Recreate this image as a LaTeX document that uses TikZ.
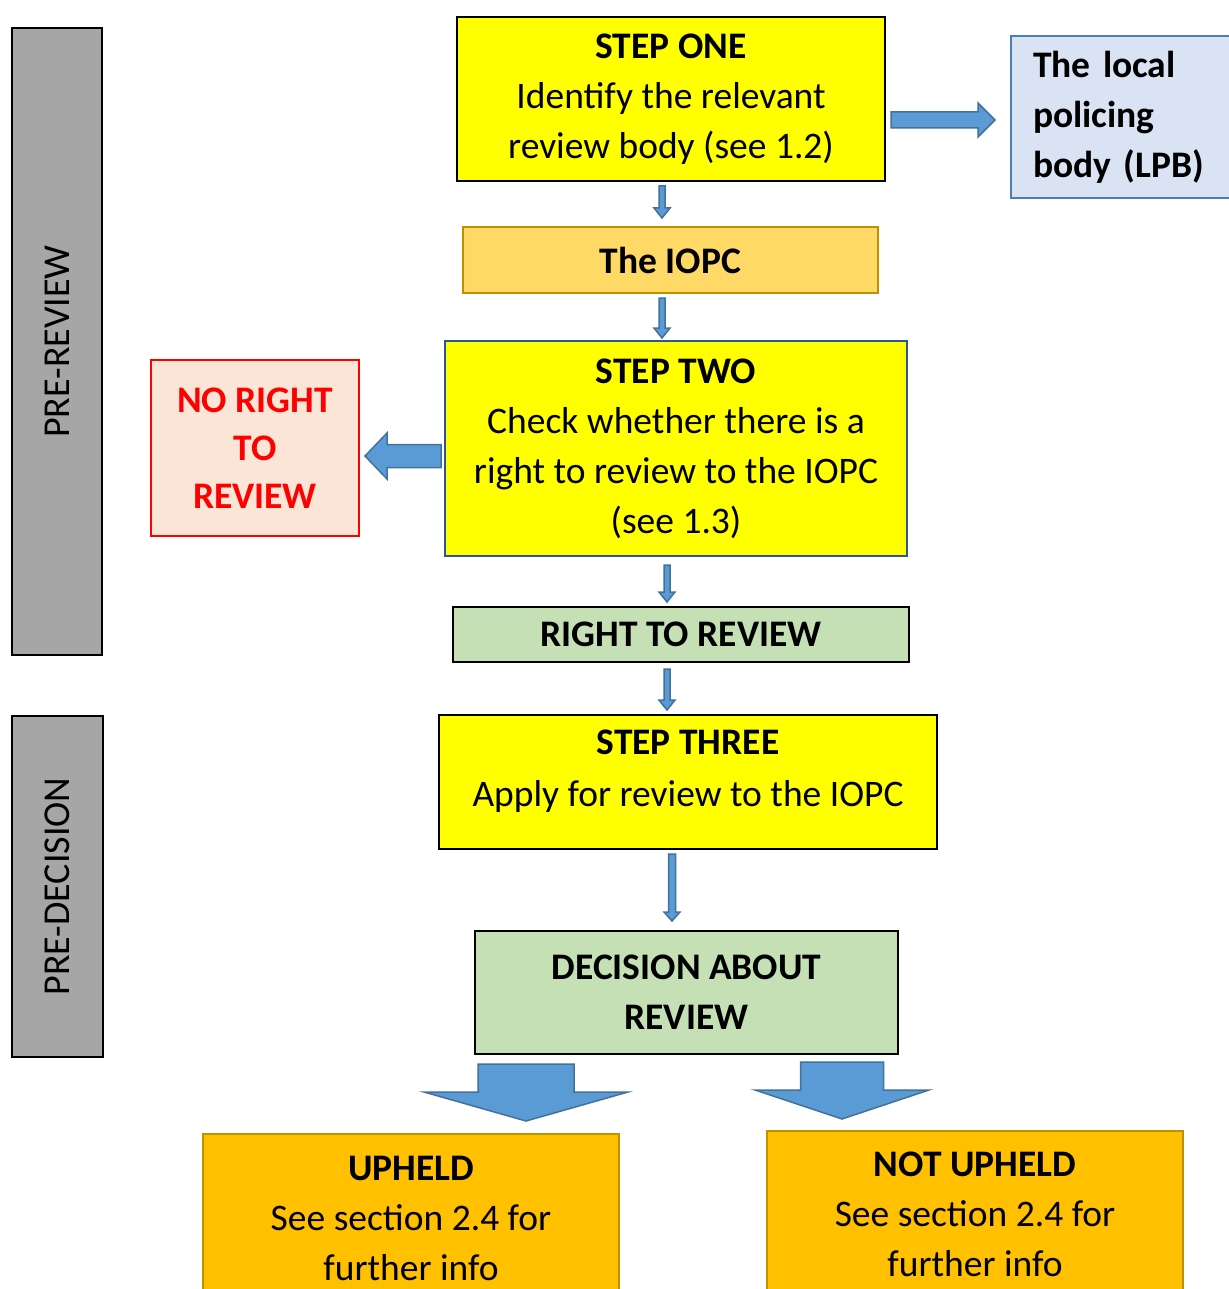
\documentclass[tikz,border=0pt]{standalone}
\usepackage{fontspec}
\setmainfont{Carlito}
\usetikzlibrary{calc}
\definecolor{grayfill}{HTML}{A6A6A6}
\definecolor{yel}{HTML}{FFFF00}
\definecolor{arrfill}{HTML}{5B9BD5}
\definecolor{arrline}{HTML}{41719C}
\definecolor{lpbfill}{HTML}{DAE3F3}
\definecolor{lpbline}{HTML}{4A7EBB}
\definecolor{iopcfill}{HTML}{FFD966}
\definecolor{goldline}{HTML}{BF9000}
\definecolor{darkblue}{HTML}{2F5597}
\definecolor{nrfill}{HTML}{FBE5D6}
\definecolor{nrred}{HTML}{FF0000}
\definecolor{grn}{HTML}{C5E0B4}
\definecolor{orng}{HTML}{FFC000}
\tikzset{
  box/.style={draw=black, line width=2pt, inner sep=0pt, align=center,
    font=\fontsize{37.5}{50}\selectfont, anchor=north west},
  graybox/.style={draw=black, line width=2pt, fill=grayfill, inner sep=0pt,
    font=\fontsize{38}{44}\selectfont},
  barrow/.style={fill=arrfill, draw=arrline, line width=1.5pt, line join=miter},
}
% vertical down connector: from node, to node, x, body half, head half, head length, gap top, gap bottom
\newcommand{\vconn}[8]{%
  \filldraw[barrow] let \p1=(#1.south), \p2=(#2.north) in
  ({(#3-#4)*1pt},{\y1-(#7pt)}) -- ({(#3-#4)*1pt},{\y2+(#8pt)+(#6pt)}) --
  ({(#3-#5)*1pt},{\y2+(#8pt)+(#6pt)}) -- ({#3*1pt},{\y2+(#8pt)}) --
  ({(#3+#5)*1pt},{\y2+(#8pt)+(#6pt)}) -- ({(#3+#4)*1pt},{\y2+(#8pt)+(#6pt)}) --
  ({(#3+#4)*1pt},{\y1-(#7pt)}) -- cycle;}
% horizontal connector: from anchor, to anchor, y, body half, head half, head length, direction, gap start, gap end
\newcommand{\hconn}[9]{%
  \filldraw[barrow] let \p1=(#1), \p2=(#2) in
  ({\x1+(#7)*(#8pt)},{-(#3-#4)*1pt}) -- ({\x2-(#7)*(#9pt+#6pt)},{-(#3-#4)*1pt}) --
  ({\x2-(#7)*(#9pt+#6pt)},{-(#3-#5)*1pt}) -- ({\x2-(#7)*(#9pt)},{-#3*1pt}) --
  ({\x2-(#7)*(#9pt+#6pt)},{-(#3+#5)*1pt}) -- ({\x2-(#7)*(#9pt+#6pt)},{-(#3+#4)*1pt}) --
  ({\x1+(#7)*(#8pt)},{-(#3+#4)*1pt}) -- cycle;}
\begin{document}
\begin{tikzpicture}[x=1pt,y=-1pt]
\useasboundingbox[fill=white] (0,0) rectangle (1228,1289);

% side bands
\node[graybox, rotate=90, minimum width=627, minimum height=90] (pr) at (57,341.5) {PRE-REVIEW};
\node[graybox, rotate=90, minimum width=341, minimum height=91] (pd) at (57.5,886.5) {PRE-DECISION};

% boxes
\node[box, fill=yel, minimum width=428, minimum height=164] (s1) at (456,16)
  {\textbf{STEP ONE}\\Identify the relevant\\review body (see 1.2)};
\node[box, fill=lpbfill, draw=lpbline, minimum height=162, text width=196, inner xsep=22, align=left] (lpb) at (1010,35)
  {\textbf{The local}\\\textbf{policing}\\\textbf{body (LPB)}};
\node[box, fill=iopcfill, draw=goldline, minimum width=415, minimum height=66] (iopc) at (462,226)
  {\textbf{The IOPC}};
\node[box, fill=yel, draw=darkblue, minimum width=462, minimum height=215] (s2) at (444,340)
  {\textbf{STEP TWO}\\Check whether there is a\\right to review to the IOPC\\(see 1.3)};
\node[box, fill=nrfill, draw=nrred, text=nrred, minimum width=208, minimum height=176] (nr) at (150,359)
  {\textbf{NO RIGHT}\\[-2pt]\textbf{TO}\\[-2pt]\textbf{REVIEW}};
\node[box, fill=grn, minimum width=456, minimum height=55] (rtr) at (452,606)
  {\textbf{RIGHT TO REVIEW}};
\node[box, fill=yel, minimum width=498, minimum height=134] (s3) at (438,714)
  {\textbf{STEP THREE}\\[2pt]Apply for review to the IOPC\\[-23pt]\mbox{}};
\node[box, fill=grn, minimum width=423, minimum height=123] (dec) at (474,930)
  {\textbf{DECISION ABOUT}\\\textbf{REVIEW}};
\node[box, fill=orng, draw=goldline, minimum width=416, minimum height=168] (up) at (202,1133)
  {\textbf{UPHELD}\\See section 2.4 for\\further info};
\node[box, fill=orng, draw=goldline, minimum width=416, minimum height=166] (nup) at (766,1130)
  {\textbf{NOT UPHELD}\\See section 2.4 for\\further info};

% connectors
\vconn{s1}{iopc}{662}{3}{8}{10}{4}{8}
\vconn{iopc}{s2}{662}{3}{8}{10}{4}{2}
\vconn{s2}{rtr}{667}{3}{8}{10}{8}{4}
\vconn{rtr}{s3}{667}{3}{8}{10}{6}{4}
\vconn{s3}{dec}{672}{3.5}{8}{9}{4}{9}
\vconn{dec}{up}{526}{48}{102}{29}{9}{12}
\vconn{dec}{nup}{842}{41.5}{87}{29}{7}{11}
\hconn{s1.east}{lpb.west}{120}{8}{17}{17}{1}{5}{15}
\hconn{s2.west}{nr.east}{456}{11.5}{23}{22}{-1}{3}{5}
\end{tikzpicture}
\end{document}
